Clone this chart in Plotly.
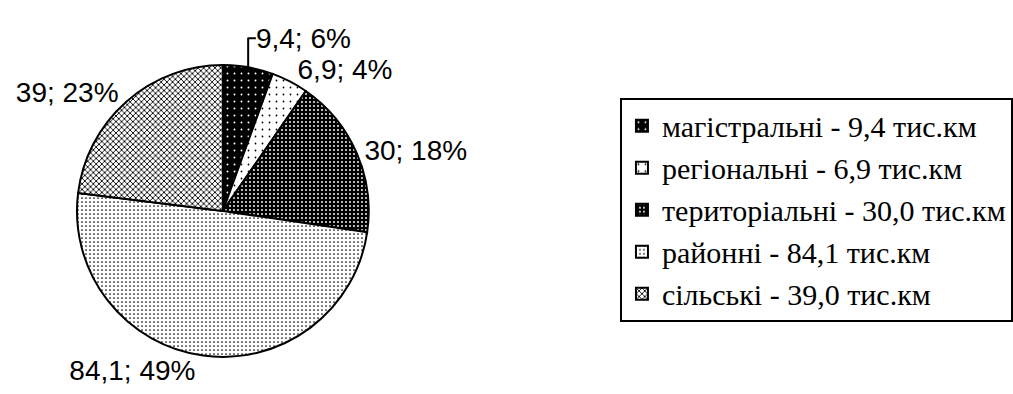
import plotly.graph_objects as go

names = ["магістральні", "регіональні", "територіальні", "районні", "сільські"]
values = [9.4, 6.9, 30.0, 84.1, 39.0]
value_labels = ["9,4", "6,9", "30", "84,1", "39"]
legend_values = ["9,4", "6,9", "30,0", "84,1", "39,0"]
percent_labels = ["6%", "4%", "18%", "49%", "23%"]

legend_names = [f"{n} - {v} тис.км" for n, v in zip(names, legend_values)]
slice_text = [f"{v}; {p}" for v, p in zip(value_labels, percent_labels)]

pattern_bg = ["#000000", "#ffffff", "#000000", "#ffffff", "#ffffff"]
pattern_fg = ["#ffffff", "#000000", "#ffffff", "#000000", "#000000"]
pattern_shape = [".", ".", ".", ".", "x"]
pattern_size = [7, 7, 4, 4, 4]
pattern_solidity = [0.06, 0.05, 0.18, 0.14, 0.4]

fig = go.Figure()
fig.add_trace(go.Pie(
    labels=legend_names,
    values=values,
    text=slice_text,
    textinfo="text",
    textposition="outside",
    sort=False,
    direction="clockwise",
    rotation=0,
    marker=dict(
        colors=pattern_bg,
        line=dict(color="#000000", width=2),
        pattern=dict(
            shape=pattern_shape,
            bgcolor=pattern_bg,
            fgcolor=pattern_fg,
            size=pattern_size,
            solidity=pattern_solidity,
            fillmode="replace",
        ),
    ),
    outsidetextfont=dict(family="Liberation Sans", size=28, color="#000000"),
    domain=dict(x=[0.076, 0.364], y=[0.094, 0.835]),
    hoverinfo="skip",
))

fig.update_layout(
    width=1013,
    height=394,
    margin=dict(l=0, r=0, t=0, b=0, autoexpand=False),
    paper_bgcolor="#ffffff",
    plot_bgcolor="#ffffff",
    showlegend=True,
    legend=dict(
        x=0.612,
        y=0.752,
        xanchor="left",
        yanchor="top",
        bordercolor="#000000",
        borderwidth=2,
        bgcolor="#ffffff",
        font=dict(family="Liberation Serif", size=30, color="#000000"),
        itemclick=False,
    ),
)

fig.write_html("out.html")
